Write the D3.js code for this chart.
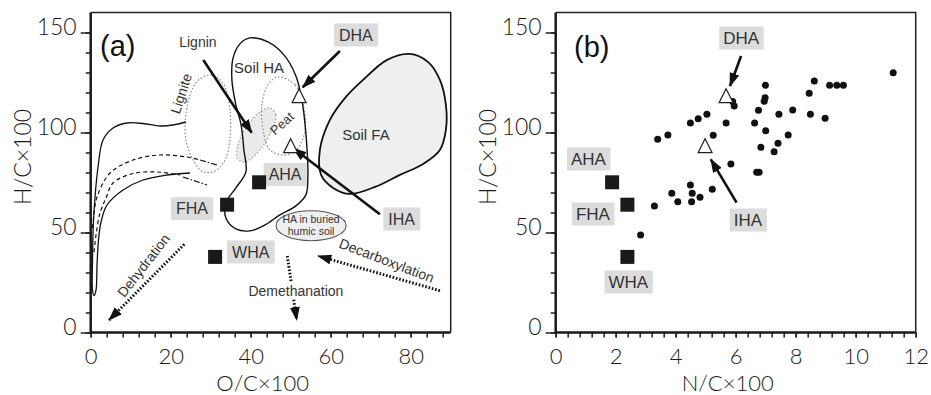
<!DOCTYPE html>
<html>
<head>
<meta charset="utf-8">
<script src="https://cdn.jsdelivr.net/npm/d3@7"></script>
<style>
  body { margin: 0; background: #fff; }
  svg { display: block; }
  .tick text { font-family: "Lato", "Liberation Sans", sans-serif; font-weight: 300; fill: #1a1a1a; }
  .lbl { font-family: "Liberation Sans", Arial, sans-serif; fill: #333; }
</style>
</head>
<body>
<svg id="chart"></svg>
<script>
const width = 931;
const height = 395;

// ---- data ----
// the five humic acids of this study
const samples = ["AHA", "FHA", "WHA", "DHA", "IHA"];
const sampleOC = [42.1, 34.1, 31.1, 52.1, 50.0];
const sampleNC = [1.88, 2.39, 2.39, 5.68, 4.98];
const sampleHC = [75.1, 63.9, 37.8, 117.9, 92.9];
const sampleShape = ["square", "square", "square", "triangle", "triangle"];

// panel (b): literature humic acids, N/C and H/C
const litNC = [3.40, 3.74, 4.49, 4.75, 5.04, 5.25, 5.68, 5.90, 5.95, 5.84, 6.70, 6.78, 6.63, 6.76, 6.95,
  6.98, 6.99, 7.00, 6.84, 7.28, 7.41, 7.44, 7.75, 7.90, 8.45, 8.62, 8.49, 8.98, 9.13, 9.37, 9.59, 11.25,
  2.83, 3.29, 3.87, 4.07, 4.49, 4.55, 4.53, 4.81, 5.22];
const litHC = [96.6, 98.8, 104.8, 106.9, 109.1, 98.6, 104.8, 115.5, 113.3, 84.3, 80.1, 80.1, 104.8, 111.1, 115.6,
  117.4, 123.6, 100.9, 92.6, 90.4, 94.6, 109.1, 98.8, 111.3, 119.6, 125.8, 109.1, 107.1, 123.6, 123.6, 123.6, 129.9,
  48.8, 63.3, 69.6, 65.4, 73.8, 69.6, 65.4, 67.6, 71.6];

// tick values
const yMajor = [0, 50, 100, 150];
const yMinor = d3.range(0, 151, 10);
const xMajorA = [0, 20, 40, 60, 80];
const xMinorA = d3.range(0, 89, 4);
const xMajorB = [0, 2, 4, 6, 8, 10, 12];
const xMinorB = d3.range(0, 31).map(i => +(i * 0.4).toFixed(1));

// van Krevelen regions of panel (a), as [O/C, H/C]
const soilFA = [[57.3, 91.3], [59.8, 106.3], [63.6, 117.3], [68.1, 126.3], [74.1, 136.3], [79.8, 139.3], [84.3, 135.3],
  [87.3, 126.3], [88.8, 113.8], [88.8, 101.3], [87.3, 91.3], [83.1, 84.3], [77.3, 78.8], [71.1, 72.8], [64.8, 69.3],
  [60.6, 72.3], [57.6, 78.8]];
const soilHA = [[39.8, 147.3], [44.3, 145.3], [48.3, 138.8], [51.3, 128.3], [52.8, 116.3], [53.6, 103.8], [54.1, 91.3],
  [54.3, 78.8], [53.8, 68.8], [51.3, 63.3], [47.3, 58.8], [43.6, 53.8], [39.8, 50.8], [36.3, 51.8], [33.8, 57.3],
  [33.8, 64.8], [36.3, 72.3], [38.8, 80.3], [38.3, 91.3], [37.6, 103.8], [36.3, 113.8], [35.3, 126.3], [35.6, 137.3],
  [37.3, 144.3]];
const peat = [[46.8, 127.8], [51.1, 123.8], [53.1, 113.8], [53.6, 101.3], [51.8, 92.3], [48.6, 88.8], [44.8, 91.3],
  [43.1, 101.3], [42.8, 113.8], [44.3, 123.8]];
const lignin = [[44.8, 112.3], [46.3, 108.8], [45.3, 101.3], [42.3, 91.3], [38.6, 85.3], [36.6, 87.3], [36.8, 93.8],
  [39.3, 103.8], [42.3, 110.3]];
const lignite = [[30.3, 128.8], [33.3, 123.8], [34.8, 111.3], [34.8, 96.3], [33.6, 86.3], [31.1, 80.8], [28.1, 80.3],
  [25.6, 86.3], [23.8, 96.3], [23.8, 108.8], [25.3, 121.3], [27.3, 126.8]];
const coalBand = [[23.83, 105.25], [20.58, 103.75], [17.33, 103.25], [13.08, 104.5], [9.08, 104.75], [5.58, 102.25],
  [3.08, 96.25], [1.83, 82.75], [1.08, 67.75], [0.65, 53.75], [0.45, 36.25], [0.45, 21.25], [0.83, 18.5], [1.33, 21.25],
  [1.58, 33.75], [1.95, 46.25], [2.58, 55.25], [4.08, 63.75], [8.08, 71.25], [13.08, 76.25], [19.08, 78.75], [24.83, 79.75]];
const dashUpper = [[0.45, 52.25], [0.83, 59.25], [1.58, 67.75], [4.83, 79.75], [10.58, 86.25], [17.33, 88.75],
  [24.08, 87.75], [27.33, 86.25]];
const dashUpperTail = [[27.33, 86.25], [31.58, 83.75]];
const dashLower = [[0.83, 40.25], [1.33, 48.75], [2.33, 59.75], [3.83, 67.25], [5.58, 74.75], [10.58, 79.5],
  [16.58, 80.25], [22.33, 78.75]];
const dashLowerTail = [[23.08, 77.75], [29.08, 73.75]];
const buried = {cx: 55.1, cy: 53.4, rx: 8.75, ry: 7.5};

// region names in panel (a): [text, O/C, H/C, rotation, size]
const regionText = [
  ["Lignin", 26.8, 145.5, 0, 14],
  ["Soil HA", 42.1, 132.5, 0, 15],
  ["Soil FA", 68.8, 98.8, 0, 15],
  ["Lignite", 22.6, 119.5, -72, 14],
  ["Peat", 47.8, 104.5, -42, 13],
];
// process arrows in panel (a): [text, from, to, text pos, rotation, halo]
const processes = [
  ["Dehydration", [23.4, 44.1], [4.6, 6.25], [13.2, 33.5], -52, false],
  ["Demethanation", [49.15, 38.25], [51.5, 6.25], [51.3, 21.0], 0, true],
  ["Decarboxylation", [87.3, 20.9], [56.9, 38.25], [74.0, 36.0], 21, false],
];
// labelled samples: [name, label x, label y, arrow from, arrow to]
const labelsA = [
  ["DHA", 66.3, 148.75, [62.3, 140.75], [53.0, 122.6]],
  ["AHA", 48.6, 79.0, null, null],
  ["FHA", 25.3, 61.9, null, null],
  ["WHA", 40.0, 40.25, null, null],
  ["IHA", 77.75, 56.75, [72.3, 59.1], [50.65, 92.1]],
];
const labelsB = [
  ["DHA", 6.18, 147.25, [6.18, 138.25], [5.81, 123.25]],
  ["AHA", 1.09, 86.75, null, null],
  ["FHA", 1.24, 59.25, null, null],
  ["WHA", 2.42, 25.25, null, null],
  ["IHA", 6.41, 56.25, [6.03, 64.9], [5.17, 86.6]],
];
const ligninArrow = [[28.15, 136.25], [40.25, 99.9]];

// ---- layout ----
const svg = d3.select("#chart").attr("width", width).attr("height", height);
const defs = svg.append("defs");
defs.append("marker").attr("id", "head").attr("markerUnits", "userSpaceOnUse")
  .attr("viewBox", "0 0 14 10").attr("refX", 13).attr("refY", 5)
  .attr("markerWidth", 14).attr("markerHeight", 10).attr("orient", "auto")
  .append("path").attr("d", "M0,0 L14,5 L0,10 Z").attr("fill", "#111");

const yScaleA = d3.scaleLinear().domain([0, 160]).range([332.5, 12.5]);
const xScaleA = d3.scaleLinear().domain([0, 90]).range([90.7, 450.7]);
const xScaleB = d3.scaleLinear().domain([0, 12]).range([555.7, 915.7]);

function drawFrame(x, y, xMajor, xMinor, xTitle, xFmt) {
  const g = svg.append("g");
  // top and right border
  g.append("path")
    .attr("d", `M${x.range()[0]},${y.range()[1]} H${x.range()[1]} V${y.range()[0]}`)
    .attr("fill", "none").attr("stroke", "#222").attr("stroke-width", 1.5);

  const yMin = g.append("g").attr("transform", `translate(${x.range()[0]},0)`)
    .call(d3.axisLeft(y).tickValues(yMinor).tickSize(5).tickFormat(""));
  const yMaj = g.append("g").attr("transform", `translate(${x.range()[0]},0)`)
    .call(d3.axisLeft(y).tickValues(yMajor).tickSize(10).tickPadding(4));
  yMaj.selectAll("text").attr("font-size", 23).attr("dy", "0.1em");

  const xMin = g.append("g").attr("transform", `translate(0,${y.range()[0]})`)
    .call(d3.axisBottom(x).tickValues(xMinor).tickSize(5).tickFormat(""));
  const xMaj = g.append("g").attr("transform", `translate(0,${y.range()[0]})`)
    .call(d3.axisBottom(x).tickValues(xMajor).tickSize(5).tickPadding(11).tickFormat(xFmt));
  xMaj.selectAll("text").attr("font-size", 22);

  [yMin, yMaj, xMin, xMaj].forEach(a => {
    a.selectAll(".tick line").attr("stroke", "#222").attr("stroke-width", 1.5);
    a.select(".domain").remove();
  });
  // thick left and bottom axis lines
  g.append("path")
    .attr("d", `M${x.range()[0]},${y.range()[1]} V${y.range()[0]} H${x.range()[1]}`)
    .attr("fill", "none").attr("stroke", "#1a1a1a").attr("stroke-width", 2.5);

  g.append("text")
    .attr("x", (x.range()[0] + x.range()[1]) / 2 - 8).attr("y", 391)
    .attr("text-anchor", "middle").attr("font-size", 22)
    .attr("font-family", "Lato, 'Liberation Sans', sans-serif").attr("font-weight", 300).attr("fill", "#1a1a1a")
    .text(xTitle);
  g.append("text")
    .attr("transform", `translate(${x.range()[0] - 60},157) rotate(-90)`)
    .attr("text-anchor", "middle").attr("font-size", 23)
    .attr("font-family", "Lato, 'Liberation Sans', sans-serif").attr("font-weight", 300).attr("fill", "#1a1a1a")
    .text("H/C×100");
}

function drawLabel(g, text, px, py, size, pad) {
  const t = g.append("text").attr("class", "lbl").attr("x", px).attr("y", py)
    .attr("text-anchor", "middle").attr("dominant-baseline", "central")
    .attr("font-size", size).text(text);
  const bb = t.node().getBBox();
  g.insert("rect", () => t.node())
    .attr("x", bb.x - pad).attr("y", py - 11.5).attr("width", bb.width + 2 * pad).attr("height", 23)
    .attr("fill", "#dcdcdc");
}

function drawSamples(g, x, y, xs) {
  samples.forEach((s, i) => {
    const cx = x(xs[i]), cy = y(sampleHC[i]);
    if (sampleShape[i] === "square") {
      g.append("rect").attr("x", cx - 7).attr("y", cy - 7).attr("width", 14).attr("height", 14).attr("fill", "#1a1a1a");
    } else {
      g.append("path").attr("d", `M${cx},${cy - 8} L${cx + 7},${cy + 6} L${cx - 7},${cy + 6} Z`)
        .attr("fill", "#fff").attr("stroke", "#222").attr("stroke-width", 1.2);
    }
  });
}

function drawArrow(g, from, to, x, y) {
  g.append("line")
    .attr("x1", x(from[0])).attr("y1", y(from[1])).attr("x2", x(to[0])).attr("y2", y(to[1]))
    .attr("stroke", "#111").attr("stroke-width", 2.6).attr("marker-end", "url(#head)");
}

// ---------- panel (a) ----------
drawFrame(xScaleA, yScaleA, xMajorA, xMinorA, "O/C×100", d3.format("d"));
const ga = svg.append("g");
const lineA = d3.line().x(d => xScaleA(d[0])).y(d => yScaleA(d[1]));

ga.append("path").attr("d", lineA.curve(d3.curveCatmullRomClosed)(soilFA))
  .attr("fill", "#eeeff1").attr("stroke", "#111").attr("stroke-width", 1.8);
ga.append("path").attr("d", lineA.curve(d3.curveCatmullRomClosed)(lignite))
  .attr("fill", "none").attr("stroke", "#888").attr("stroke-width", 1.2).attr("stroke-dasharray", "1.5,2");
ga.append("path").attr("d", lineA.curve(d3.curveCatmullRomClosed)(lignin))
  .attr("fill", "#e8eaec").attr("stroke", "#999").attr("stroke-width", 1.1).attr("stroke-dasharray", "1.5,2");
ga.append("path").attr("d", lineA.curve(d3.curveCatmullRomClosed)(peat))
  .attr("fill", "none").attr("stroke", "#888").attr("stroke-width", 1.2).attr("stroke-dasharray", "1.5,2");
ga.append("path").attr("d", lineA.curve(d3.curveCatmullRomClosed)(soilHA))
  .attr("fill", "none").attr("stroke", "#111").attr("stroke-width", 1.4);
ga.append("path").attr("d", lineA.curve(d3.curveCatmullRom)(coalBand))
  .attr("fill", "none").attr("stroke", "#111").attr("stroke-width", 1.3);
ga.append("path").attr("d", lineA.curve(d3.curveCatmullRom)(dashUpper))
  .attr("fill", "none").attr("stroke", "#111").attr("stroke-width", 1.2).attr("stroke-dasharray", "4,3");
ga.append("path").attr("d", lineA.curve(d3.curveLinear)(dashUpperTail))
  .attr("fill", "none").attr("stroke", "#111").attr("stroke-width", 1.2).attr("stroke-dasharray", "6,2,1.5,2");
ga.append("path").attr("d", lineA.curve(d3.curveCatmullRom)(dashLower))
  .attr("fill", "none").attr("stroke", "#111").attr("stroke-width", 1.2).attr("stroke-dasharray", "4,3");
ga.append("path").attr("d", lineA.curve(d3.curveLinear)(dashLowerTail))
  .attr("fill", "none").attr("stroke", "#111").attr("stroke-width", 1.2).attr("stroke-dasharray", "6,2,1.5,2");

// HA in buried humic soil
const bx = xScaleA(buried.cx), by = yScaleA(buried.cy);
ga.append("ellipse").attr("cx", bx).attr("cy", by)
  .attr("rx", xScaleA(buried.rx) - xScaleA(0)).attr("ry", yScaleA(0) - yScaleA(buried.ry))
  .attr("fill", "#eeeff1").attr("stroke", "#555").attr("stroke-width", 1.1);
ga.append("text").attr("class", "lbl").attr("x", bx).attr("y", by - 3).attr("text-anchor", "middle")
  .attr("font-size", 10.5).text("HA in buried");
ga.append("text").attr("class", "lbl").attr("x", bx).attr("y", by + 9).attr("text-anchor", "middle")
  .attr("font-size", 10.5).text("humic soil");

regionText.forEach(([t, ox, hy, rot, size]) => {
  ga.append("text").attr("class", "lbl")
    .attr("transform", `translate(${xScaleA(ox)},${yScaleA(hy)}) rotate(${rot})`)
    .attr("text-anchor", "middle").attr("dominant-baseline", "central").attr("font-size", size).text(t);
});

// process arrows (dotted)
processes.forEach(([t, from, to, tp, rot, halo]) => {
  ga.append("line")
    .attr("x1", xScaleA(from[0])).attr("y1", yScaleA(from[1])).attr("x2", xScaleA(to[0])).attr("y2", yScaleA(to[1]))
    .attr("stroke", "#111").attr("stroke-width", 3).attr("stroke-dasharray", "1.6,1.8").attr("marker-end", "url(#head)");
  const tt = ga.append("text").attr("class", "lbl")
    .attr("transform", `translate(${xScaleA(tp[0])},${yScaleA(tp[1])}) rotate(${rot})`)
    .attr("text-anchor", "middle").attr("dominant-baseline", "central").attr("font-size", 14).text(t);
  if (halo) tt.attr("stroke", "#fff").attr("stroke-width", 5).attr("paint-order", "stroke");
});

drawArrow(ga, ligninArrow[0], ligninArrow[1], xScaleA, yScaleA);
labelsA.forEach(([t, lx, ly, from, to]) => {
  drawLabel(ga, t, xScaleA(lx), yScaleA(ly), 16, 5);
  if (from) drawArrow(ga, from, to, xScaleA, yScaleA);
});
drawSamples(ga, xScaleA, yScaleA, sampleOC);
ga.append("text").attr("x", 100).attr("y", 56).attr("font-size", 29)
  .attr("font-family", "'Liberation Sans', Arial, sans-serif").attr("fill", "#111").text("(a)");

// ---------- panel (b) ----------
drawFrame(xScaleB, yScaleA, xMajorB, xMinorB, "N/C×100", d3.format("d"));
const gb = svg.append("g");
gb.selectAll("circle.lit").data(litNC).join("circle").attr("class", "lit")
  .attr("cx", (d) => xScaleB(d)).attr("cy", (d, i) => yScaleA(litHC[i])).attr("r", 3.5).attr("fill", "#111");
labelsB.forEach(([t, lx, ly, from, to]) => {
  drawLabel(gb, t, xScaleB(lx), yScaleA(ly), 17, 4);
  if (from) drawArrow(gb, from, to, xScaleB, yScaleA);
});
drawSamples(gb, xScaleB, yScaleA, sampleNC);
gb.append("text").attr("x", 574).attr("y", 57).attr("font-size", 29)
  .attr("font-family", "'Liberation Sans', Arial, sans-serif").attr("fill", "#111").text("(b)");
</script>
</body>
</html>
